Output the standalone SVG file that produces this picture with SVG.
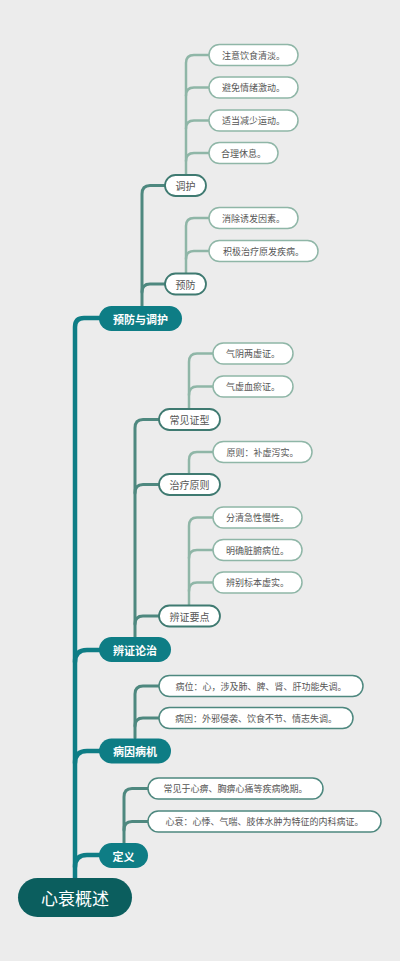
<svg xmlns="http://www.w3.org/2000/svg" width="400" height="961" viewBox="0 0 400 961">
<style>
text{font-family:"Noto Sans CJK SC","Noto Sans",sans-serif;text-anchor:middle;dominant-baseline:central}
.c1{fill:none;stroke:#0e7d85;stroke-width:4.5;stroke-linecap:round}
.c2{fill:none;stroke:#4e887f;stroke-width:3;stroke-linecap:round}
.c3{fill:none;stroke:#8fb6a7;stroke-width:2.5;stroke-linecap:round}
.root rect{fill:#0b5e5e}
.root text{fill:#fff;font-size:17px}
.l1 rect{fill:#0e7d85}
.l1 text{fill:#fff;font-size:11px;font-weight:bold}
.l2 rect{fill:#fff;stroke:#3f7a71;stroke-width:1.8}
.l2 text{fill:#555;font-size:10px}
.lf rect{fill:#fff;stroke:#8fb6a7;stroke-width:1.5}
.lf text{fill:#555;font-size:9px}
.ld rect{fill:#fff;stroke:#4e887f;stroke-width:1.5}
.ld text{fill:#555;font-size:9px}
</style>
<rect width="400" height="961" fill="#ececec"/>
<g id="connectors">
<path class="c1" d="M75,879 L75,327 Q75,318 84,318 L100,318"/>
<path class="c1" d="M75,662 Q75,650 87,650 L100,650"/>
<path class="c1" d="M75,763 Q75,751 87,751 L100,751"/>
<path class="c1" d="M75,867 Q75,855 87,855 L100,855"/>
<path class="c2" d="M142,306 L142,194 Q142,185.5 150,185.5 L165,185.5"/>
<path class="c2" d="M142,292 Q142,284 150,284 L165,284"/>
<path class="c2" d="M135,637 L135,428 Q135,419.5 143,419.5 L159,419.5"/>
<path class="c2" d="M135,493 Q135,484.5 143,484.5 L159,484.5"/>
<path class="c2" d="M135,624 Q135,616 143,616 L159,616"/>
<path class="c2" d="M135,738 L135,694 Q135,686 143,686 L159,686"/>
<path class="c2" d="M135,726 Q135,718 143,718 L159,718"/>
<path class="c2" d="M124,843 L124,797 Q124,788.5 132,788.5 L148,788.5"/>
<path class="c2" d="M124,830 Q124,821.5 132,821.5 L148,821.5"/>
<path class="c3" d="M186,175 L186,63 Q186,55 194,55 L209,55"/>
<path class="c3" d="M186,95.5 Q186,87.5 194,87.5 L209,87.5"/>
<path class="c3" d="M186,128.5 Q186,120.5 194,120.5 L209,120.5"/>
<path class="c3" d="M186,161 Q186,153 194,153 L209,153"/>
<path class="c3" d="M186,273 L186,226 Q186,218 194,218 L209,218"/>
<path class="c3" d="M186,259 Q186,251 194,251 L209,251"/>
<path class="c3" d="M189,409 L189,362 Q189,353.5 197,353.5 L213,353.5"/>
<path class="c3" d="M189,395 Q189,386.5 197,386.5 L213,386.5"/>
<path class="c3" d="M189,474 L189,460 Q189,452 197,452 L213,452"/>
<path class="c3" d="M189,605 L189,526 Q189,517.5 197,517.5 L213,517.5"/>
<path class="c3" d="M189,558 Q189,550 197,550 L213,550"/>
<path class="c3" d="M189,591 Q189,582.5 197,582.5 L213,582.5"/>
</g>
<g id="root" class="root"><rect x="18" y="878" width="114" height="39" rx="19.5"/><text x="75" y="897.5">心衰概述</text></g>
<g id="n-yfty" class="l1"><rect x="99" y="306" width="83" height="25" rx="12.5"/><text x="140.5" y="318.5">预防与调护</text></g>
<g id="n-bzlz" class="l1"><rect x="99" y="637" width="72" height="25" rx="12.5"/><text x="135" y="649.5">辨证论治</text></g>
<g id="n-bybj" class="l1"><rect x="99" y="738.5" width="72" height="25" rx="12.5"/><text x="135" y="751">病因病机</text></g>
<g id="n-dy" class="l1"><rect x="99" y="843" width="49" height="25" rx="12.5"/><text x="123.5" y="855.5">定义</text></g>
<g id="n-th" class="l2"><rect x="165" y="175" width="41" height="21" rx="10.5"/><text x="185.5" y="185.5">调护</text></g>
<g id="n-yf" class="l2"><rect x="165" y="273.5" width="41" height="21" rx="10.5"/><text x="185.5" y="284">预防</text></g>
<g id="n-cjzx" class="l2"><rect x="159" y="409" width="61" height="21" rx="10.5"/><text x="189.5" y="419.5">常见证型</text></g>
<g id="n-zlyz" class="l2"><rect x="159" y="474" width="61" height="21" rx="10.5"/><text x="189.5" y="484.5">治疗原则</text></g>
<g id="n-bzyd" class="l2"><rect x="159" y="605.5" width="61" height="21" rx="10.5"/><text x="189.5" y="616">辨证要点</text></g>
<g id="n-l1" class="lf"><rect x="209" y="44.5" width="89" height="21" rx="10.5"/><text x="253.5" y="55">注意饮食清淡。</text></g>
<g id="n-l2" class="lf"><rect x="209" y="77" width="89" height="21" rx="10.5"/><text x="253.5" y="87.5">避免情绪激动。</text></g>
<g id="n-l3" class="lf"><rect x="209" y="110" width="89" height="21" rx="10.5"/><text x="253.5" y="120.5">适当减少运动。</text></g>
<g id="n-l4" class="lf"><rect x="209" y="142.5" width="69" height="21" rx="10.5"/><text x="243.5" y="153">合理休息。</text></g>
<g id="n-l5" class="lf"><rect x="209" y="207.5" width="89" height="21" rx="10.5"/><text x="253.5" y="218">消除诱发因素。</text></g>
<g id="n-l6" class="lf"><rect x="209" y="240.5" width="109" height="21" rx="10.5"/><text x="263.5" y="251">积极治疗原发疾病。</text></g>
<g id="n-l7" class="lf"><rect x="213" y="343" width="80" height="21" rx="10.5"/><text x="253" y="353.5">气阴两虚证。</text></g>
<g id="n-l8" class="lf"><rect x="213" y="376" width="80" height="21" rx="10.5"/><text x="253" y="386.5">气虚血瘀证。</text></g>
<g id="n-l9" class="lf"><rect x="213" y="441.5" width="99" height="21" rx="10.5"/><text x="262.5" y="452">原则：补虚泻实。</text></g>
<g id="n-l10" class="lf"><rect x="213" y="507" width="89" height="21" rx="10.5"/><text x="257.5" y="517.5">分清急性慢性。</text></g>
<g id="n-l11" class="lf"><rect x="213" y="539.5" width="89" height="21" rx="10.5"/><text x="257.5" y="550">明确脏腑病位。</text></g>
<g id="n-l12" class="lf"><rect x="213" y="572" width="89" height="21" rx="10.5"/><text x="257.5" y="582.5">辨别标本虚实。</text></g>
<g id="n-l13" class="ld"><rect x="159" y="675.5" width="204" height="21" rx="10.5"/><text x="261" y="686">病位：心，涉及肺、脾、肾、肝功能失调。</text></g>
<g id="n-l14" class="ld"><rect x="159" y="707.5" width="194" height="21" rx="10.5"/><text x="256" y="718">病因：外邪侵袭、饮食不节、情志失调。</text></g>
<g id="n-l15" class="ld"><rect x="148" y="778" width="175" height="21" rx="10.5"/><text x="235.5" y="788.5">常见于心痹、胸痹心痛等疾病晚期。</text></g>
<g id="n-l16" class="ld"><rect x="148" y="811" width="233" height="21" rx="10.5"/><text x="264.5" y="821.5">心衰：心悸、气喘、肢体水肿为特征的内科病证。</text></g>
</svg>
